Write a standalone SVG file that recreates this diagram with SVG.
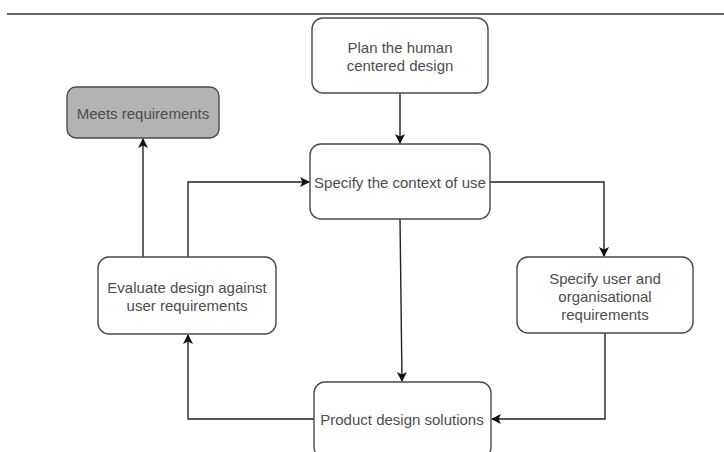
<svg xmlns="http://www.w3.org/2000/svg" width="724" height="452" viewBox="0 0 724 452">
  <style>
    .box { fill: #ffffff; stroke: #4a4a4a; stroke-width: 1.4; }
    .done { fill: #b3b3b3; }
    .label { font-family: "Liberation Sans", Arial, sans-serif; font-size: 15px; fill: #4d4d4d; text-anchor: middle; dominant-baseline: central; }
    .edge { fill: none; stroke: #222222; stroke-width: 1.4; }
  </style>
  <defs>
    <marker id="arrow" viewBox="0 0 10 10" refX="9" refY="5" markerWidth="10" markerHeight="10" markerUnits="userSpaceOnUse" orient="auto">
      <path d="M0,0 L10,5 L0,10 L2.5,5 z" fill="#111111"/>
    </marker>
  </defs>

  <rect width="724" height="452" fill="#ffffff"/>

  <!-- page rule along the top -->
  <line x1="7" y1="14" x2="724" y2="14" stroke="#333333" stroke-width="1.6"/>

  <g id="connectors">
    <path class="edge" d="M400,93 L400,143" marker-end="url(#arrow)"/>
    <path class="edge" d="M490,182 L604,182 L604,256" marker-end="url(#arrow)"/>
    <path class="edge" d="M400,219 L402,381" marker-end="url(#arrow)"/>
    <path class="edge" d="M605,333 L605,419 L492,419" marker-end="url(#arrow)"/>
    <path class="edge" d="M314,419 L188,419 L188,335" marker-end="url(#arrow)"/>
    <path class="edge" d="M188,257 L188,182 L309,182" marker-end="url(#arrow)"/>
    <path class="edge" d="M143,257 L143,139" marker-end="url(#arrow)"/>
  </g>

  <g id="plan">
    <rect class="box" x="312" y="18" width="176" height="75" rx="11"/>
    <text class="label" x="400" y="47">Plan the human</text>
    <text class="label" x="400" y="65">centered design</text>
  </g>

  <g id="context">
    <rect class="box" x="310" y="144" width="180" height="75" rx="11"/>
    <text class="label" x="400" y="182">Specify the context of use</text>
  </g>

  <g id="meets">
    <rect class="box done" x="67" y="87" width="152" height="51" rx="9"/>
    <text class="label" x="143" y="113">Meets requirements</text>
  </g>

  <g id="evaluate">
    <rect class="box" x="98" y="257" width="178" height="77" rx="11"/>
    <text class="label" x="187" y="287">Evaluate design against</text>
    <text class="label" x="187" y="305">user requirements</text>
  </g>

  <g id="requirements">
    <rect class="box" x="517" y="257" width="176" height="76" rx="11"/>
    <text class="label" x="605" y="278">Specify user and</text>
    <text class="label" x="605" y="296">organisational</text>
    <text class="label" x="605" y="314">requirements</text>
  </g>

  <g id="solutions">
    <rect class="box" x="314" y="382" width="177" height="76" rx="11"/>
    <text class="label" x="402" y="419">Product design solutions</text>
  </g>
</svg>
